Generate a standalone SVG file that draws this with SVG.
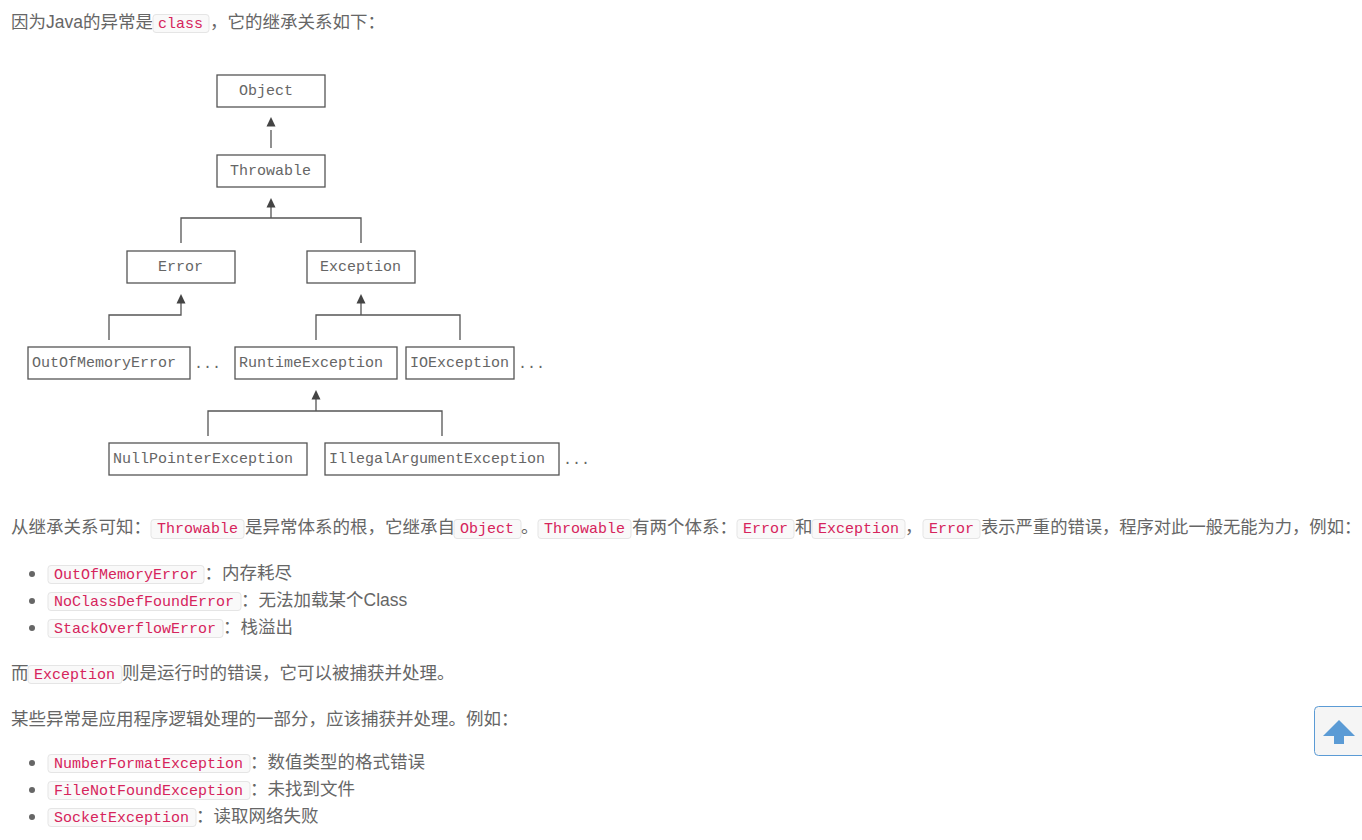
<svg xmlns="http://www.w3.org/2000/svg" width="1362" height="840" viewBox="0 0 1362 840">
<style>
.t{font:17.500px "Liberation Sans","Noto Sans CJK SC",sans-serif;fill:#666}
.c{font:15px "Liberation Mono",monospace;fill:#d6245c}
.b{fill:#f9f9f9;stroke:#e5e5e5;stroke-width:1}
.n{fill:#fff;stroke:#555;stroke-width:1.300}
.l{font:15px "Liberation Mono",monospace;fill:#666}
.e{fill:none;stroke:#555;stroke-width:1.300}
.a{fill:#444}
.d{fill:#666}
</style>
<rect width="1362" height="840" fill="#fff"/>
<g id="intro">
<text class="t" x="11" y="28">因为Java的异常是</text>
<rect class="b" x="153" y="14.500" width="56" height="18" rx="3"/>
<text class="c" x="158" y="28">class</text>
<text class="t" x="210" y="28">，它的继承关系如下：</text>
</g>
<g id="connectors">
<path class="e" d="M271 130V148"/>
<path class="a" d="M271 117l4.500 9.500h-9z"/>
<path class="e" d="M271 207V218M181 243V218H361V243"/>
<path class="a" d="M271 198l4.500 9.500h-9z"/>
<path class="e" d="M181 303V315H109V340"/>
<path class="a" d="M181 294l4.500 9.500h-9z"/>
<path class="e" d="M361 303V315M316 340V315H460V340"/>
<path class="a" d="M361 294l4.500 9.500h-9z"/>
<path class="e" d="M316 399V411M208 436V411H442V436"/>
<path class="a" d="M316 390l4.500 9.500h-9z"/>
</g>
<g id="node-object"><rect class="n" x="217" y="75" width="108" height="32"/><text class="l" x="239" y="95">Object</text></g>
<g id="node-throwable"><rect class="n" x="217" y="155" width="108" height="32"/><text class="l" x="230" y="175">Throwable</text></g>
<g id="node-error"><rect class="n" x="127" y="251" width="108" height="32"/><text class="l" x="158" y="271">Error</text></g>
<g id="node-exception"><rect class="n" x="307" y="251" width="108" height="32"/><text class="l" x="320" y="271">Exception</text></g>
<g id="node-oom"><rect class="n" x="28" y="347" width="162" height="32"/><text class="l" x="32" y="367">OutOfMemoryError</text></g>
<text class="l" x="194" y="368">...</text>
<g id="node-runtime"><rect class="n" x="235" y="347" width="162" height="32"/><text class="l" x="239" y="367">RuntimeException</text></g>
<g id="node-io"><rect class="n" x="406" y="347" width="108" height="32"/><text class="l" x="410" y="367">IOException</text></g>
<text class="l" x="518" y="368">...</text>
<g id="node-npe"><rect class="n" x="109" y="443" width="198" height="32"/><text class="l" x="113" y="463">NullPointerException</text></g>
<g id="node-iae"><rect class="n" x="325" y="443" width="234" height="32"/><text class="l" x="329" y="463">IllegalArgumentException</text></g>
<text class="l" x="563" y="464">...</text>
<g id="para-2">
<text class="t" x="11" y="533">从继承关系可知：</text>
<rect class="b" x="151" y="519.500" width="93" height="19" rx="3"/>
<text class="c" x="157" y="533">Throwable</text>
<text class="t" x="245" y="533">是异常体系的根，它继承自</text>
<rect class="b" x="454" y="519.500" width="67" height="19" rx="3"/>
<text class="c" x="460" y="533">Object</text>
<text class="t" x="521" y="533">。</text>
<rect class="b" x="538" y="519.500" width="93" height="19" rx="3"/>
<text class="c" x="544" y="533">Throwable</text>
<text class="t" x="632" y="533">有两个体系：</text>
<rect class="b" x="737" y="519.500" width="57" height="19" rx="3"/>
<text class="c" x="743" y="533">Error</text>
<text class="t" x="795" y="533">和</text>
<rect class="b" x="812" y="519.500" width="93" height="19" rx="3"/>
<text class="c" x="818" y="533">Exception</text>
<text class="t" x="905" y="533">，</text>
<rect class="b" x="923" y="519.500" width="57" height="19" rx="3"/>
<text class="c" x="929" y="533">Error</text>
<text class="t" x="981" y="533" style="font-size:17.300px">表示严重的错误，程序对此一般无能为力，例如：</text>
</g>
<g id="list-1">
<circle class="d" cx="32" cy="574" r="3"/>
<rect class="b" x="48" y="565.500" width="156" height="18" rx="3"/>
<text class="c" x="54" y="579">OutOfMemoryError</text>
<text class="t" x="204.500" y="579">：内存耗尽</text>
<circle class="d" cx="32" cy="601" r="3"/>
<rect class="b" x="48" y="592.500" width="193" height="18" rx="3"/>
<text class="c" x="54" y="606">NoClassDefFoundError</text>
<text class="t" x="241" y="606">：无法加载某个Class</text>
<circle class="d" cx="32" cy="628" r="3"/>
<rect class="b" x="48" y="619.500" width="175" height="18" rx="3"/>
<text class="c" x="54" y="633">StackOverflowError</text>
<text class="t" x="223" y="633">：栈溢出</text>
</g>
<g id="para-3">
<text class="t" x="11" y="679">而</text>
<rect class="b" x="28" y="665.500" width="94" height="18" rx="3"/>
<text class="c" x="34" y="679">Exception</text>
<text class="t" x="122" y="679">则是运行时的错误，它可以被捕获并处理。</text>
<text class="t" x="11" y="725">某些异常是应用程序逻辑处理的一部分，应该捕获并处理。例如：</text>
</g>
<g id="list-2">
<circle class="d" cx="32" cy="763" r="3"/>
<rect class="b" x="48" y="754.500" width="202" height="18" rx="3"/>
<text class="c" x="54" y="768">NumberFormatException</text>
<text class="t" x="250" y="768">：数值类型的格式错误</text>
<circle class="d" cx="32" cy="790" r="3"/>
<rect class="b" x="48" y="781.500" width="202" height="18" rx="3"/>
<text class="c" x="54" y="795">FileNotFoundException</text>
<text class="t" x="250" y="795">：未找到文件</text>
<circle class="d" cx="32" cy="817" r="3"/>
<rect class="b" x="48" y="808.500" width="148" height="18" rx="3"/>
<text class="c" x="54" y="822">SocketException</text>
<text class="t" x="196" y="822">：读取网络失败</text>
</g>
<g id="back-to-top">
<rect x="1314.500" y="706.500" width="60" height="49" rx="4" fill="#f5f5f5" stroke="#5b9bd5"/>
<path d="M1339 720L1355 736H1344V744H1334V736H1323Z" fill="#5b9bd5"/>
</g>
</svg>
